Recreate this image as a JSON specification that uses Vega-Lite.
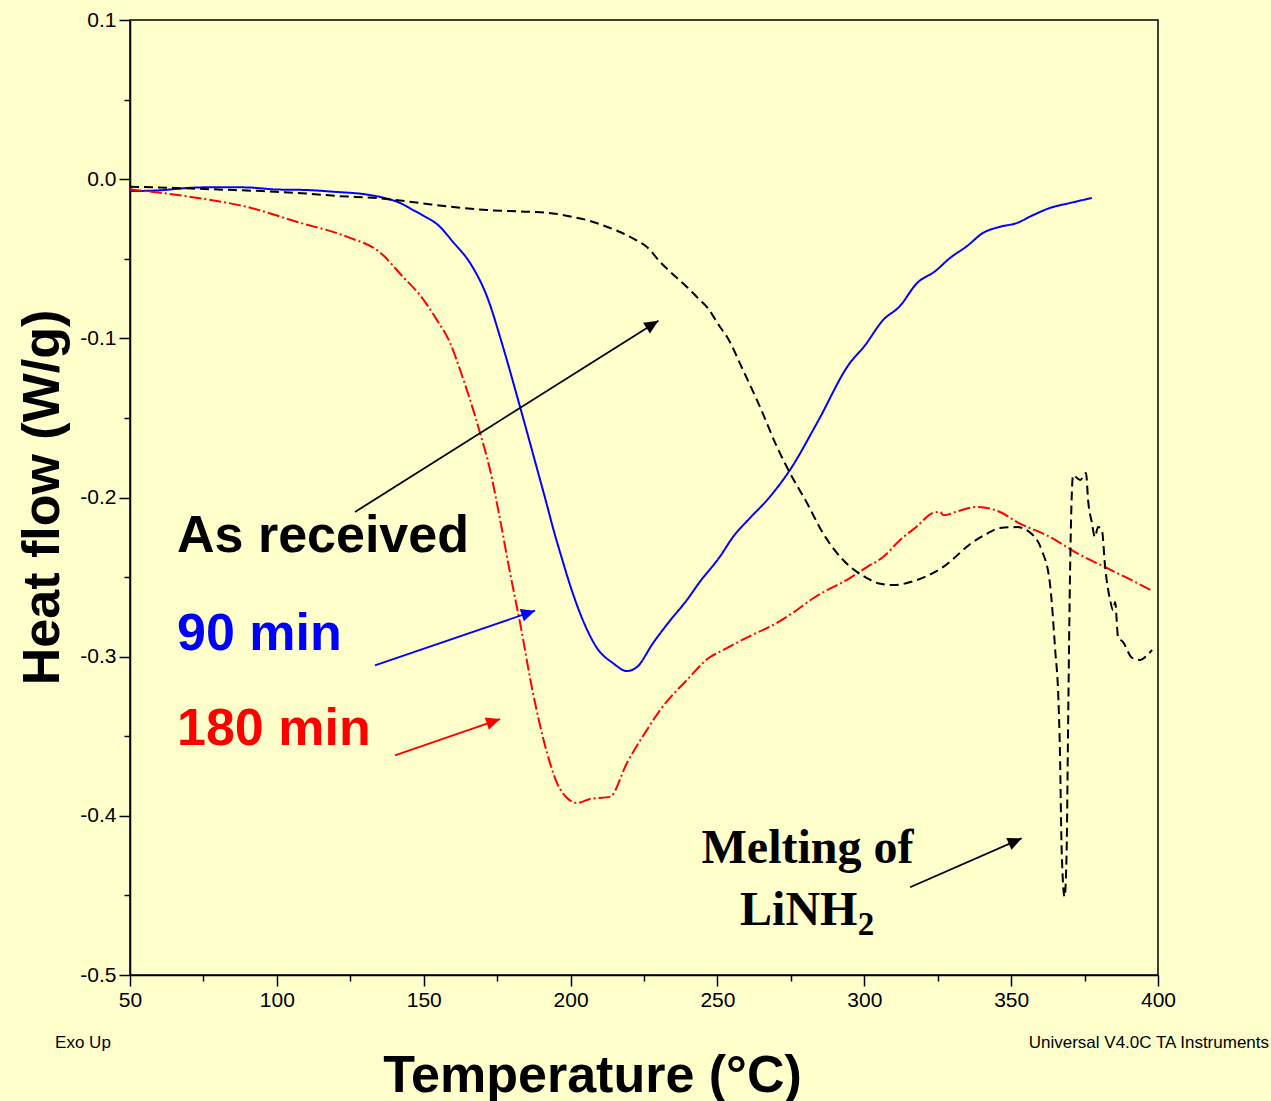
{
  "$schema": "https://vega.github.io/schema/vega-lite/v6.json",
  "width": 1028,
  "height": 955,
  "autosize": {"type": "none"},
  "padding": {"left": 130, "top": 20, "right": 113, "bottom": 126},
  "background": "#FFFFCC",
  "config": {
    "view": {"stroke": "black", "strokeWidth": 1.5},
    "axis": {
      "grid": false,
      "domainColor": "black",
      "domainWidth": 1.5,
      "tickColor": "black",
      "tickWidth": 1.5,
      "labelColor": "black",
      "labelFont": "Liberation Sans Narrow, Arial Narrow, Liberation Sans",
      "labelFontSize": 21,
      "titleColor": "black",
      "titleFont": "Liberation Sans, Arial",
      "titleFontWeight": "bold",
      "titleFontSize": 52,
      "labelOverlap": false,
      "labelFlush": false,
      "labelBound": false,
      "labelPadding": 3
    }
  },
  "datasets": {
    "curves": [
      {"series": "90 min", "T": 50, "H": -0.0075},
      {"series": "90 min", "T": 60, "H": -0.007},
      {"series": "90 min", "T": 70, "H": -0.0055},
      {"series": "90 min", "T": 80, "H": -0.005},
      {"series": "90 min", "T": 90, "H": -0.0052},
      {"series": "90 min", "T": 100, "H": -0.0065},
      {"series": "90 min", "T": 110, "H": -0.0068},
      {"series": "90 min", "T": 120, "H": -0.008},
      {"series": "90 min", "T": 130, "H": -0.0095},
      {"series": "90 min", "T": 137, "H": -0.012},
      {"series": "90 min", "T": 142, "H": -0.015},
      {"series": "90 min", "T": 146.5, "H": -0.0195},
      {"series": "90 min", "T": 150, "H": -0.023},
      {"series": "90 min", "T": 155, "H": -0.029},
      {"series": "90 min", "T": 160, "H": -0.0395},
      {"series": "90 min", "T": 165.8, "H": -0.0527},
      {"series": "90 min", "T": 171.6, "H": -0.074},
      {"series": "90 min", "T": 177, "H": -0.1054},
      {"series": "90 min", "T": 182.8, "H": -0.1431},
      {"series": "90 min", "T": 188.6, "H": -0.182},
      {"series": "90 min", "T": 192, "H": -0.205},
      {"series": "90 min", "T": 194, "H": -0.219},
      {"series": "90 min", "T": 197, "H": -0.238},
      {"series": "90 min", "T": 200, "H": -0.256},
      {"series": "90 min", "T": 205.6, "H": -0.283},
      {"series": "90 min", "T": 209, "H": -0.2946},
      {"series": "90 min", "T": 214.4, "H": -0.304},
      {"series": "90 min", "T": 219.2, "H": -0.309},
      {"series": "90 min", "T": 222.6, "H": -0.3065},
      {"series": "90 min", "T": 228.1, "H": -0.2914},
      {"series": "90 min", "T": 234, "H": -0.277},
      {"series": "90 min", "T": 239.6, "H": -0.2644},
      {"series": "90 min", "T": 244, "H": -0.253},
      {"series": "90 min", "T": 250.9, "H": -0.237},
      {"series": "90 min", "T": 255.3, "H": -0.2248},
      {"series": "90 min", "T": 261, "H": -0.213},
      {"series": "90 min", "T": 266.9, "H": -0.2016},
      {"series": "90 min", "T": 274.7, "H": -0.1827},
      {"series": "90 min", "T": 283.9, "H": -0.1532},
      {"series": "90 min", "T": 295.1, "H": -0.1155},
      {"series": "90 min", "T": 300, "H": -0.105},
      {"series": "90 min", "T": 306.4, "H": -0.0885},
      {"series": "90 min", "T": 312, "H": -0.08},
      {"series": "90 min", "T": 318, "H": -0.0652},
      {"series": "90 min", "T": 324, "H": -0.058},
      {"series": "90 min", "T": 329.2, "H": -0.0495},
      {"series": "90 min", "T": 335, "H": -0.042},
      {"series": "90 min", "T": 340.4, "H": -0.0338},
      {"series": "90 min", "T": 346, "H": -0.03},
      {"series": "90 min", "T": 352, "H": -0.0275},
      {"series": "90 min", "T": 357, "H": -0.023},
      {"series": "90 min", "T": 363.2, "H": -0.0181},
      {"series": "90 min", "T": 370, "H": -0.015},
      {"series": "90 min", "T": 377.5, "H": -0.0118},

      {"series": "180 min", "T": 50, "H": -0.0064},
      {"series": "180 min", "T": 61, "H": -0.0087},
      {"series": "180 min", "T": 73, "H": -0.0118},
      {"series": "180 min", "T": 90, "H": -0.0175},
      {"series": "180 min", "T": 107, "H": -0.0269},
      {"series": "180 min", "T": 124, "H": -0.0363},
      {"series": "180 min", "T": 135, "H": -0.0458},
      {"series": "180 min", "T": 143, "H": -0.0615},
      {"series": "180 min", "T": 148.7, "H": -0.0728},
      {"series": "180 min", "T": 154.5, "H": -0.0885},
      {"series": "180 min", "T": 159, "H": -0.1029},
      {"series": "180 min", "T": 162.4, "H": -0.1199},
      {"series": "180 min", "T": 165.8, "H": -0.1387},
      {"series": "180 min", "T": 169.2, "H": -0.1595},
      {"series": "180 min", "T": 172.6, "H": -0.1827},
      {"series": "180 min", "T": 175.5, "H": -0.209},
      {"series": "180 min", "T": 179.4, "H": -0.2474},
      {"series": "180 min", "T": 182.8, "H": -0.2788},
      {"series": "180 min", "T": 187.2, "H": -0.3228},
      {"series": "180 min", "T": 192, "H": -0.3605},
      {"series": "180 min", "T": 195.4, "H": -0.3794},
      {"series": "180 min", "T": 198.8, "H": -0.3888},
      {"series": "180 min", "T": 202.2, "H": -0.3919},
      {"series": "180 min", "T": 206.6, "H": -0.3894},
      {"series": "180 min", "T": 213.4, "H": -0.3881},
      {"series": "180 min", "T": 219.2, "H": -0.3668},
      {"series": "180 min", "T": 226, "H": -0.346},
      {"series": "180 min", "T": 230.5, "H": -0.3335},
      {"series": "180 min", "T": 239.6, "H": -0.3147},
      {"series": "180 min", "T": 247.5, "H": -0.3002},
      {"series": "180 min", "T": 250.9, "H": -0.2969},
      {"series": "180 min", "T": 260, "H": -0.288},
      {"series": "180 min", "T": 270, "H": -0.279},
      {"series": "180 min", "T": 276, "H": -0.272},
      {"series": "180 min", "T": 282.6, "H": -0.2633},
      {"series": "180 min", "T": 295.1, "H": -0.2506},
      {"series": "180 min", "T": 300.9, "H": -0.2437},
      {"series": "180 min", "T": 306.4, "H": -0.2374},
      {"series": "180 min", "T": 312.2, "H": -0.2267},
      {"series": "180 min", "T": 318, "H": -0.218},
      {"series": "180 min", "T": 323.4, "H": -0.2097},
      {"series": "180 min", "T": 325.8, "H": -0.2091},
      {"series": "180 min", "T": 327, "H": -0.2112},
      {"series": "180 min", "T": 332, "H": -0.2085},
      {"series": "180 min", "T": 338.4, "H": -0.206},
      {"series": "180 min", "T": 346.2, "H": -0.2091},
      {"series": "180 min", "T": 352, "H": -0.2154},
      {"series": "180 min", "T": 363.2, "H": -0.2248},
      {"series": "180 min", "T": 372.4, "H": -0.2349},
      {"series": "180 min", "T": 382.6, "H": -0.2443},
      {"series": "180 min", "T": 390, "H": -0.251},
      {"series": "180 min", "T": 398, "H": -0.2587},

      {"series": "As received", "T": 50, "H": -0.0047},
      {"series": "As received", "T": 65, "H": -0.0055},
      {"series": "As received", "T": 80, "H": -0.0065},
      {"series": "As received", "T": 95, "H": -0.0075},
      {"series": "As received", "T": 110, "H": -0.009},
      {"series": "As received", "T": 120, "H": -0.0105},
      {"series": "As received", "T": 135, "H": -0.012},
      {"series": "As received", "T": 148.7, "H": -0.015},
      {"series": "As received", "T": 160, "H": -0.0175},
      {"series": "As received", "T": 171.6, "H": -0.0194},
      {"series": "As received", "T": 186, "H": -0.0205},
      {"series": "As received", "T": 194, "H": -0.0215},
      {"series": "As received", "T": 200, "H": -0.0235},
      {"series": "As received", "T": 205.6, "H": -0.0257},
      {"series": "As received", "T": 211, "H": -0.029},
      {"series": "As received", "T": 216.8, "H": -0.0332},
      {"series": "As received", "T": 222, "H": -0.038},
      {"series": "As received", "T": 226, "H": -0.0426},
      {"series": "As received", "T": 230.5, "H": -0.052},
      {"series": "As received", "T": 235, "H": -0.06},
      {"series": "As received", "T": 239.6, "H": -0.0677},
      {"series": "As received", "T": 244, "H": -0.0759},
      {"series": "As received", "T": 246.4, "H": -0.0803},
      {"series": "As received", "T": 250.9, "H": -0.0929},
      {"series": "As received", "T": 253.3, "H": -0.0992},
      {"series": "As received", "T": 258.7, "H": -0.1199},
      {"series": "As received", "T": 264.5, "H": -0.1431},
      {"series": "As received", "T": 270.3, "H": -0.1683},
      {"series": "As received", "T": 274.7, "H": -0.1846},
      {"series": "As received", "T": 280.5, "H": -0.2035},
      {"series": "As received", "T": 285.9, "H": -0.2223},
      {"series": "As received", "T": 292.8, "H": -0.2393},
      {"series": "As received", "T": 300.9, "H": -0.2506},
      {"series": "As received", "T": 305, "H": -0.254},
      {"series": "As received", "T": 309.8, "H": -0.255},
      {"series": "As received", "T": 318, "H": -0.2518},
      {"series": "As received", "T": 326.8, "H": -0.2437},
      {"series": "As received", "T": 337, "H": -0.228},
      {"series": "As received", "T": 342, "H": -0.2225},
      {"series": "As received", "T": 346.2, "H": -0.2192},
      {"series": "As received", "T": 352, "H": -0.2186},
      {"series": "As received", "T": 357.4, "H": -0.2236},
      {"series": "As received", "T": 360.4, "H": -0.233},
      {"series": "As received", "T": 363.2, "H": -0.2539},
      {"series": "As received", "T": 365, "H": -0.2958},
      {"series": "As received", "T": 366.1, "H": -0.327},
      {"series": "As received", "T": 366.6, "H": -0.3586},
      {"series": "As received", "T": 367.2, "H": -0.4215},
      {"series": "As received", "T": 368.2, "H": -0.4508},
      {"series": "As received", "T": 368.9, "H": -0.4215},
      {"series": "As received", "T": 369.3, "H": -0.3586},
      {"series": "As received", "T": 369.5, "H": -0.327},
      {"series": "As received", "T": 370, "H": -0.254},
      {"series": "As received", "T": 371.1, "H": -0.186},
      {"series": "As received", "T": 373.5, "H": -0.189},
      {"series": "As received", "T": 375.5, "H": -0.1846},
      {"series": "As received", "T": 376.2, "H": -0.2016},
      {"series": "As received", "T": 377.5, "H": -0.216},
      {"series": "As received", "T": 378.5, "H": -0.2248},
      {"series": "As received", "T": 379.6, "H": -0.2185},
      {"series": "As received", "T": 380.9, "H": -0.2204},
      {"series": "As received", "T": 382, "H": -0.2437},
      {"series": "As received", "T": 383.7, "H": -0.2644},
      {"series": "As received", "T": 384.7, "H": -0.2707},
      {"series": "As received", "T": 385.4, "H": -0.2657},
      {"series": "As received", "T": 386.4, "H": -0.2876},
      {"series": "As received", "T": 388.1, "H": -0.2908},
      {"series": "As received", "T": 391.2, "H": -0.3008},
      {"series": "As received", "T": 393.9, "H": -0.3021},
      {"series": "As received", "T": 396.3, "H": -0.299},
      {"series": "As received", "T": 398, "H": -0.2958}
    ],
    "serieslabels": [
      {"series": "As received", "label": "As received", "T": 66.0, "H": -0.234},
      {"series": "90 min", "label": "90 min", "T": 66.0, "H": -0.2958},
      {"series": "180 min", "label": "180 min", "T": 66.0, "H": -0.3555}
    ],
    "arrows": [
      {"name": "As received", "series": "As received", "T1": 126.6, "H1": -0.2091, "T2": 229.9, "H2": -0.0889},
      {"name": "90 min", "series": "90 min", "T1": 133.4, "H1": -0.3055, "T2": 187.9, "H2": -0.2711},
      {"name": "180 min", "series": "180 min", "T1": 140.2, "H1": -0.362, "T2": 176.0, "H2": -0.3392},
      {"name": "Melting", "series": "As received", "T1": 315.6, "H1": -0.4449, "T2": 353.6, "H2": -0.4141}
    ],
    "notes": [
      {"text": "Melting of", "T": 244.6, "H": -0.4296},
      {"text": "LiNH", "T": 257.7, "H": -0.4686}
    ],
    "subscript": [
      {"text": "2", "T": 297.8, "H": -0.4749}
    ],
    "footer": [
      {"text": "Exo Up", "T": 24.5, "H": -0.5427, "side": "left"},
      {"text": "Universal V4.0C TA Instruments", "T": 437.8, "H": -0.5427, "side": "right"}
    ]
  },
  "layer": [
    {
      "data": {"name": "curves"},
      "mark": {"type": "line", "strokeWidth": 2, "interpolate": "monotone"},
      "encoding": {
        "x": {
          "field": "T", "type": "quantitative",
          "scale": {"domain": [50, 400], "nice": false, "zero": false},
          "axis": {
            "title": "Temperature (°C)",
            "values": [50, 62.5, 75, 87.5, 100, 112.5, 125, 137.5, 150, 162.5, 175, 187.5, 200, 212.5, 225, 237.5, 250, 262.5, 275, 287.5, 300, 312.5, 325, 337.5, 350, 362.5, 375, 387.5, 400],
            "tickSize": {"condition": {"test": "datum.value % 50 === 0", "value": 11}, "value": 6},
            "labelExpr": "datum.value % 50 === 0 ? format(datum.value, 'd') : ''",
            "titleX": 462,
            "titleY": 100,
            "titleAlign": "center",
            "titleBaseline": "middle"
          }
        },
        "y": {
          "field": "H", "type": "quantitative",
          "scale": {"domain": [-0.5, 0.1], "nice": false, "zero": false},
          "axis": {
            "title": "Heat flow (W/g)",
            "values": [-0.5, -0.45, -0.4, -0.35, -0.3, -0.25, -0.2, -0.15, -0.1, -0.05, 0, 0.05, 0.1],
            "tickSize": {"condition": {"test": "abs(datum.value*10 - round(datum.value*10)) < 0.01", "value": 11}, "value": 6},
            "labelExpr": "abs(datum.value*10 - round(datum.value*10)) < 0.01 ? replace(format(datum.value, '.1f'), '−', '-') : ''",
            "titleX": -88,
            "titleY": 477,
            "titleAngle": -90,
            "titleAlign": "center",
            "titleBaseline": "middle"
          }
        },
        "color": {
          "field": "series", "type": "nominal",
          "scale": {"domain": ["As received", "90 min", "180 min"], "range": ["#000000", "#0000FF", "#FF0000"]},
          "legend": null
        },
        "strokeDash": {
          "field": "series", "type": "nominal",
          "scale": {"domain": ["As received", "90 min", "180 min"], "range": [[9, 5], [1, 0], [12, 3, 2, 3]]},
          "legend": null
        }
      }
    },
    {
      "data": {"name": "serieslabels"},
      "mark": {"type": "text", "font": "Liberation Sans, Arial", "fontWeight": "bold", "fontSize": 52, "align": "left", "baseline": "alphabetic"},
      "encoding": {
        "x": {"field": "T", "type": "quantitative"},
        "y": {"field": "H", "type": "quantitative"},
        "text": {"field": "label"},
        "color": {"field": "series", "type": "nominal", "legend": null}
      }
    },
    {
      "data": {"name": "arrows"},
      "mark": {"type": "rule", "strokeWidth": 1.8},
      "encoding": {
        "x": {"field": "T1", "type": "quantitative"},
        "y": {"field": "H1", "type": "quantitative"},
        "x2": {"field": "T2"},
        "y2": {"field": "H2"},
        "color": {"field": "series", "type": "nominal", "legend": null}
      }
    },
    {
      "data": {"name": "arrows"},
      "transform": [{"filter": "datum.name === 'As received'"}],
      "mark": {"type": "point", "shape": "M0,0L-0.46,1L0.46,1Z", "size": 784, "angle": 57.9, "filled": true, "opacity": 1, "strokeWidth": 0},
      "encoding": {
        "x": {"field": "T2", "type": "quantitative"},
        "y": {"field": "H2", "type": "quantitative"},
        "color": {"field": "series", "type": "nominal", "legend": null}
      }
    },
    {
      "data": {"name": "arrows"},
      "transform": [{"filter": "datum.name === '90 min'"}],
      "mark": {"type": "point", "shape": "M0,0L-0.46,1L0.46,1Z", "size": 784, "angle": 71.1, "filled": true, "opacity": 1, "strokeWidth": 0},
      "encoding": {
        "x": {"field": "T2", "type": "quantitative"},
        "y": {"field": "H2", "type": "quantitative"},
        "color": {"field": "series", "type": "nominal", "legend": null}
      }
    },
    {
      "data": {"name": "arrows"},
      "transform": [{"filter": "datum.name === '180 min'"}],
      "mark": {"type": "point", "shape": "M0,0L-0.46,1L0.46,1Z", "size": 784, "angle": 70.9, "filled": true, "opacity": 1, "strokeWidth": 0},
      "encoding": {
        "x": {"field": "T2", "type": "quantitative"},
        "y": {"field": "H2", "type": "quantitative"},
        "color": {"field": "series", "type": "nominal", "legend": null}
      }
    },
    {
      "data": {"name": "arrows"},
      "transform": [{"filter": "datum.name === 'Melting'"}],
      "mark": {"type": "point", "shape": "M0,0L-0.46,1L0.46,1Z", "size": 784, "angle": 66.3, "filled": true, "opacity": 1, "strokeWidth": 0},
      "encoding": {
        "x": {"field": "T2", "type": "quantitative"},
        "y": {"field": "H2", "type": "quantitative"},
        "color": {"field": "series", "type": "nominal", "legend": null}
      }
    },
    {
      "data": {"name": "notes"},
      "mark": {"type": "text", "font": "Liberation Serif, Times New Roman", "fontWeight": "bold", "fontSize": 48, "align": "left", "baseline": "alphabetic", "color": "black"},
      "encoding": {
        "x": {"field": "T", "type": "quantitative"},
        "y": {"field": "H", "type": "quantitative"},
        "text": {"field": "text"}
      }
    },
    {
      "data": {"name": "subscript"},
      "mark": {"type": "text", "font": "Liberation Serif, Times New Roman", "fontWeight": "bold", "fontSize": 33, "align": "left", "baseline": "alphabetic", "color": "black"},
      "encoding": {
        "x": {"field": "T", "type": "quantitative"},
        "y": {"field": "H", "type": "quantitative"},
        "text": {"field": "text"}
      }
    },
    {
      "data": {"name": "footer"},
      "transform": [{"filter": "datum.side === 'left'"}],
      "mark": {"type": "text", "font": "Liberation Sans Narrow, Arial Narrow, Liberation Sans", "fontSize": 17, "align": "left", "baseline": "middle", "color": "black", "letterSpacing": -0.3},
      "encoding": {
        "x": {"field": "T", "type": "quantitative"},
        "y": {"field": "H", "type": "quantitative"},
        "text": {"field": "text"}
      }
    },
    {
      "data": {"name": "footer"},
      "transform": [{"filter": "datum.side === 'right'"}],
      "mark": {"type": "text", "font": "Liberation Sans Narrow, Arial Narrow, Liberation Sans", "fontSize": 17, "align": "right", "baseline": "middle", "color": "black", "letterSpacing": -0.3},
      "encoding": {
        "x": {"field": "T", "type": "quantitative"},
        "y": {"field": "H", "type": "quantitative"},
        "text": {"field": "text"}
      }
    }
  ]
}
